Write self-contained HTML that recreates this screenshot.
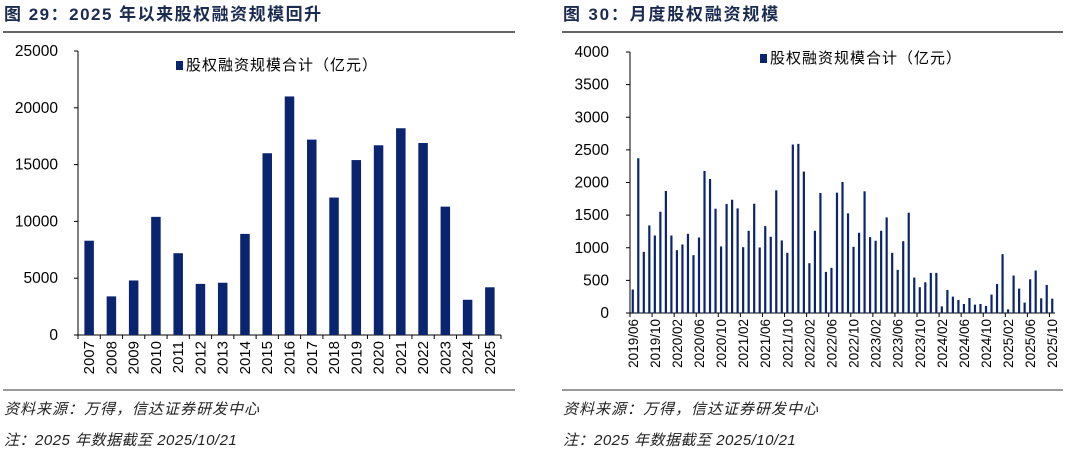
<!DOCTYPE html>
<html><head><meta charset="utf-8">
<style>
body{margin:0;background:#fff;width:1080px;height:449px;overflow:hidden;font-family:"Liberation Sans","Noto Sans CJK SC",sans-serif;}
svg{position:absolute;left:0;top:0}
</style></head>
<body>
<svg id="c" width="1080" height="449">
<text x="4" y="20" font-size="17" font-weight="bold" fill="#1a2a50" letter-spacing="1.5">图 29：2025 年以来股权融资规模回升</text>
<line x1="3" y1="32" x2="515" y2="32" stroke="#333" stroke-width="1.5"/>
<text x="563" y="20" font-size="17" font-weight="bold" fill="#1a2a50" letter-spacing="1.8">图 30：月度股权融资规模</text>
<line x1="562" y1="32" x2="1063" y2="32" stroke="#333" stroke-width="1.5"/>
<line x1="3" y1="390" x2="515" y2="390" stroke="#333" stroke-width="1"/>
<line x1="562" y1="390" x2="1063" y2="390" stroke="#333" stroke-width="1"/>
<text x="4" y="414" font-size="15" font-style="italic" fill="#222" letter-spacing="1">资料来源：万得，信达证券研发中心</text>
<text x="4" y="445" font-size="15" font-style="italic" fill="#222" letter-spacing="0.5">注：2025 年数据截至 2025/10/21</text>
<text x="563" y="414" font-size="15" font-style="italic" fill="#222" letter-spacing="1">资料来源：万得，信达证券研发中心</text>
<text x="563" y="445" font-size="15" font-style="italic" fill="#222" letter-spacing="0.5">注：2025 年数据截至 2025/10/21</text>
<g id="left"></g><g id="right"></g>
</svg>
<script>
const yearCats=["2007","2008","2009","2010","2011","2012","2013","2014","2015","2016","2017","2018","2019","2020","2021","2022","2023","2024","2025"];
const yearVals=[8300,3400,4800,10400,7200,4500,4600,8900,16000,21000,17200,12100,15400,16700,18200,16900,11300,3100,4200];
const yearTicks=[0,5000,10000,15000,20000,25000];
const monthVals=[360,2372,937,1342,1188,1552,1870,1188,963,1050,1214,886,1158,2177,2054,1598,1020,1670,1736,1603,1009,1260,1675,1004,1332,1168,1880,1112,922,2582,2592,2167,763,1260,1839,630,692,1844,2008,1527,1014,1230,1865,1163,1107,1260,1465,922,661,1101,1537,543,395,471,615,615,102,353,251,200,138,230,128,138,108,282,446,902,56,574,374,159,517,651,225,430,220];
const monthTicks=[0,500,1000,1500,2000,2500,3000,3500,4000];
const monthCats=[];
for(let i=0;i<monthVals.length;i++){const m=5+i;const y=2019+Math.floor(m/12);const mm=(m%12)+1;monthCats.push(y+"/"+(mm<10?"0":"")+mm);}
const NS="http://www.w3.org/2000/svg";
function mk(p,t,a){const e=document.createElementNS(NS,t);for(const k in a)e.setAttribute(k,a[k]);p.appendChild(e);return e;}
function chart(g,o){
  const x0=o.x0,x1=o.x1,y0=o.y0,y1=o.y1,n=o.vals.length,step=(x1-x0)/n;
  const ys=v=>y0-(v-o.min)/(o.max-o.min)*(y0-y1);
  const xs=i=>x0+step*(i+0.5);
  let a=mk(g,'line',{x1:x0,y1:y1,x2:x0,y2:y0,stroke:'#000'});
  
  
  let b=mk(g,'line',{x1:x0,y1:y0,x2:x1,y2:y0,stroke:'#000'});
  
  
  o.ticks.forEach(t=>{
    let tl=mk(g,'line',{x1:x0-4,y1:ys(t),x2:x0,y2:ys(t),stroke:'#000'});
    
    
    let tx=mk(g,'text',{x:o.lx,y:ys(t)+5,'text-anchor':'end','font-size':15.5,fill:'#000'});
    tx.textContent=t;
    
    
  });
  o.vals.forEach((v,i)=>{
    let r=mk(g,'rect',{x:xs(i)-o.bw/2,y:ys(v),width:o.bw,height:y0-ys(v),fill:'#0b2470'});
    
    
  });
  for(let i=0;i<=n;i+=o.every){
    let tl=mk(g,'line',{x1:x0+step*i,y1:y0,x2:x0+step*i,y2:y0+4,stroke:'#000'});
    
    
  }
  o.cats.forEach((c,i)=>{
    if(i%o.every)return;
    const cx=xs(i)+5;
    let t=mk(g,'text',{x:cx,y:y0+6,'text-anchor':'end','font-size':o.fs,fill:'#000',transform:`rotate(-90 ${cx} ${y0+6})`});
    t.textContent=c;
    
    
  });
  let ls=mk(g,'rect',{x:o.legx,y:o.legy-9,width:7,height:9,fill:'#0b2470'});
  
  
  let lt=mk(g,'text',{x:o.legx+10,y:o.legy,'font-size':15,fill:'#000','letter-spacing':1});
  lt.textContent='股权融资规模合计（亿元）';
  
  
}
chart(document.getElementById('left'),{x0:78,x1:501,y0:335,y1:51,min:0,max:25000,vals:yearVals,cats:yearCats,ticks:yearTicks,bw:9.5,lx:58,every:1,fs:15,legx:176,legy:70});
chart(document.getElementById('right'),{x0:630,x1:1055,y0:313,y1:52,min:0,max:4000,vals:monthVals,cats:monthCats,ticks:monthTicks,bw:2.2,lx:609,every:4,fs:13.5,legx:760,legy:63});
</script>
</body></html>
